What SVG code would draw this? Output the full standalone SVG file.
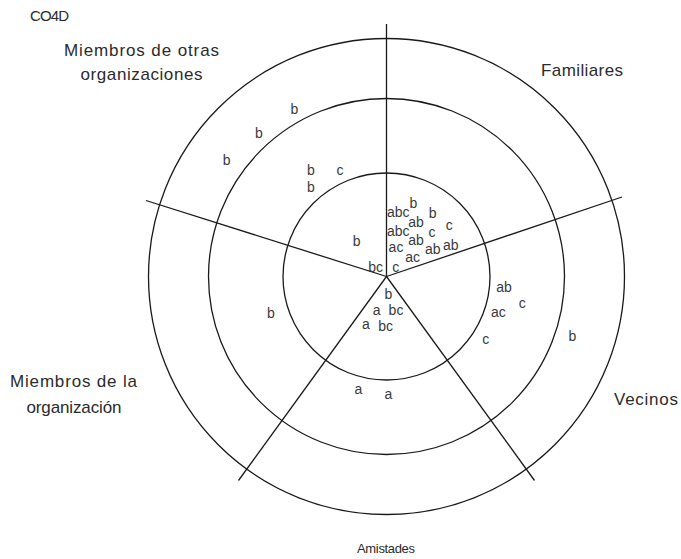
<svg xmlns="http://www.w3.org/2000/svg" width="681" height="559" viewBox="0 0 681 559">
<style>
.ring{fill:none;stroke:#1a1a1a;stroke-width:1.3}
.spoke{stroke:#1a1a1a;stroke-width:1.3}
.lbl{font-family:"Liberation Sans",Arial,sans-serif;font-size:17px;fill:#2b2b2b}
.sm{font-family:"Liberation Sans",Arial,sans-serif;font-size:14px;fill:#3a3a3a;text-anchor:middle}
</style>
<rect width="681" height="559" fill="#ffffff"/>
<g id="rings">
<circle class="ring" cx="386.5" cy="276.5" r="238"/>
<circle class="ring" cx="386.5" cy="276.5" r="178"/>
<circle class="ring" cx="386.5" cy="276.5" r="103.5"/>
</g>
<g id="connectors">
<line class="spoke" x1="386.5" y1="276.5" x2="386.5" y2="24"/>
<line class="spoke" x1="386.5" y1="276.5" x2="146" y2="200.5"/>
<line class="spoke" x1="386.5" y1="276.5" x2="622" y2="197"/>
<line class="spoke" x1="386.5" y1="276.5" x2="238.5" y2="480.5"/>
<line class="spoke" x1="386.5" y1="276.5" x2="534.5" y2="480.5"/>
</g>
<g id="title"><text class="lbl" x="30" y="21" style="font-size:15px" textLength="39">CO4D</text></g>
<g id="otras-organizaciones">
<text class="lbl" x="141.5" y="56" text-anchor="middle" textLength="155">Miembros de otras</text>
<text class="lbl" x="141.5" y="80" text-anchor="middle" textLength="122">organizaciones</text>
</g>
<g id="familiares"><text class="lbl" x="582" y="76" text-anchor="middle" textLength="82">Familiares</text></g>
<g id="vecinos"><text class="lbl" x="614" y="405" textLength="64">Vecinos</text></g>
<g id="organizacion">
<text class="lbl" x="73.5" y="387" text-anchor="middle" textLength="127">Miembros de la</text>
<text class="lbl" x="74" y="413" text-anchor="middle" textLength="95">organización</text>
</g>
<g id="amistades"><text class="lbl" x="386" y="553" text-anchor="middle" style="font-size:13px" textLength="58">Amistades</text></g>
<g id="marks">
<text class="sm" x="294.3" y="114.4">b</text>
<text class="sm" x="259" y="138.4">b</text>
<text class="sm" x="226.7" y="165">b</text>
<text class="sm" x="311" y="175">b</text>
<text class="sm" x="311" y="191.8">b</text>
<text class="sm" x="340" y="174.6">c</text>
<text class="sm" x="356.7" y="245.8">b</text>
<text class="sm" x="398.3" y="216.8">abc</text>
<text class="sm" x="413.3" y="208.4">b</text>
<text class="sm" x="432.7" y="218.4">b</text>
<text class="sm" x="416" y="226.8">ab</text>
<text class="sm" x="449.3" y="229.6">c</text>
<text class="sm" x="398.3" y="236.1">abc</text>
<text class="sm" x="432" y="236.9">c</text>
<text class="sm" x="416" y="245.1">ab</text>
<text class="sm" x="396" y="251.9">ac</text>
<text class="sm" x="432.7" y="254.4">ab</text>
<text class="sm" x="450.7" y="250.1">ab</text>
<text class="sm" x="412.7" y="261.9">ac</text>
<text class="sm" x="375.7" y="271.8">bc</text>
<text class="sm" x="395.7" y="271.9">c</text>
<text class="sm" x="388.3" y="299.4">b</text>
<text class="sm" x="376.7" y="314.6">a</text>
<text class="sm" x="396" y="315.1">bc</text>
<text class="sm" x="366" y="328.6">a</text>
<text class="sm" x="385.7" y="330.8">bc</text>
<text class="sm" x="504" y="291.8">ab</text>
<text class="sm" x="522.3" y="307.6">c</text>
<text class="sm" x="498.3" y="316.9">ac</text>
<text class="sm" x="485.7" y="343.6">c</text>
<text class="sm" x="572.3" y="341.1">b</text>
<text class="sm" x="271" y="318">b</text>
<text class="sm" x="358.3" y="394.3">a</text>
<text class="sm" x="388.3" y="398.6">a</text>
</g>
</svg>
